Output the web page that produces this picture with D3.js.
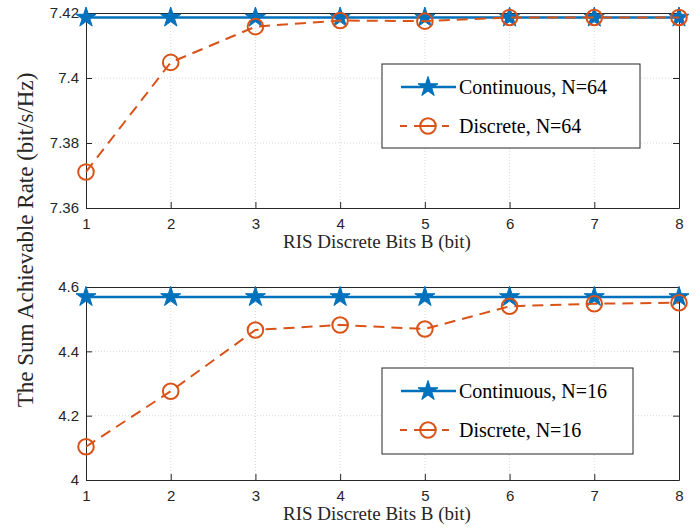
<!DOCTYPE html>
<html>
<head>
<meta charset="utf-8">
<script src="https://cdn.jsdelivr.net/npm/d3@7"></script>
<style>
  body { margin: 0; background: #fff; }
  svg { display: block; }
</style>
</head>
<body>
<svg id="canvas" width="698" height="531"></svg>
<script>
// chart data
const bits = [1, 2, 3, 4, 5, 6, 7, 8];
const cont64 = [7.4186, 7.4186, 7.4186, 7.4186, 7.4186, 7.4186, 7.4186, 7.4186];
const disc64 = [7.3711, 7.4048, 7.4158, 7.4177, 7.4175, 7.4186, 7.4186, 7.4186];
const cont16 = [4.569, 4.569, 4.569, 4.569, 4.569, 4.569, 4.569, 4.569];
const disc16 = [4.1034, 4.276, 4.4665, 4.482, 4.4695, 4.540, 4.548, 4.551];

const yTicks64 = [7.36, 7.38, 7.40, 7.42];
const yTickLabels64 = ['7.36', '7.38', '7.4', '7.42'];
const yTicks16 = [4.0, 4.2, 4.4, 4.6];
const yTickLabels16 = ['4', '4.2', '4.4', '4.6'];

const xLabel = 'RIS Discrete Bits B (bit)';
const yLabel = 'The Sum Achievable Rate (bit/s/Hz)';

const blue = '#0072BD';
const orange = '#D95319';
const axisCol = '#262626';
const serif = '"Liberation Serif", "Times New Roman", serif';
const sans = '"Liberation Sans", Arial, Helvetica, sans-serif';

const svg = d3.select('#canvas');

const x = d3.scaleLinear().domain([1, 8]).range([86, 679]);
const starSymbol = d3.symbol(d3.symbolStar, 125);

let drawPanel = (cfg) => {
    let y = d3.scaleLinear().domain(cfg.yDomain).range([cfg.bottom, cfg.top]);
    let g = svg.append('g');

    // grid lines
    g.selectAll('.gx').data(bits.slice(1, -1)).enter().append('line')
        .attr('x1', d => x(d)).attr('x2', d => x(d))
        .attr('y1', cfg.top).attr('y2', cfg.bottom)
        .attr('stroke', '#d9d9d9').attr('stroke-dasharray', '1,2').attr('stroke-width', 1);
    g.selectAll('.gy').data(cfg.yTicks.slice(1, -1)).enter().append('line')
        .attr('x1', x(1)).attr('x2', x(8))
        .attr('y1', d => y(d)).attr('y2', d => y(d))
        .attr('stroke', '#d9d9d9').attr('stroke-dasharray', '1,2').attr('stroke-width', 1);

    // axes (ticks inside, box on all sides)
    let xAxis = g.append('g').attr('transform', `translate(0,${cfg.bottom})`)
        .call(d3.axisBottom(x).tickValues(bits).tickFormat(d3.format('d')).tickSizeInner(-6).tickSizeOuter(0).tickPadding(10));
    let xTop = g.append('g').attr('transform', `translate(0,${cfg.top})`)
        .call(d3.axisTop(x).tickValues(bits).tickFormat('').tickSizeInner(-6).tickSizeOuter(0));
    let yAxis = g.append('g').attr('transform', `translate(${x(1)},0)`)
        .call(d3.axisLeft(y).tickValues(cfg.yTicks).tickFormat((d, i) => cfg.yLabels[i]).tickSizeInner(-6).tickSizeOuter(0).tickPadding(7));
    let yRight = g.append('g').attr('transform', `translate(${x(8)},0)`)
        .call(d3.axisRight(y).tickValues(cfg.yTicks).tickFormat('').tickSizeInner(-6).tickSizeOuter(0));
    [xAxis, xTop, yAxis, yRight].forEach(a => {
        a.attr('font-family', sans).attr('font-size', 15);
        a.select('.domain').attr('stroke', axisCol).attr('stroke-width', 1);
        a.selectAll('.tick line').attr('stroke', axisCol);
        a.selectAll('.tick text').attr('fill', axisCol);
    });

    // x label
    g.append('text')
        .attr('x', 377).attr('y', cfg.bottom + 40)
        .attr('text-anchor', 'middle')
        .attr('font-family', serif).attr('font-size', 19).attr('fill', axisCol)
        .text(xLabel);

    let line = d3.line().x((d, i) => x(bits[i])).y(d => y(d));

    // continuous series
    g.append('path').datum(cfg.cont).attr('d', line)
        .attr('fill', 'none').attr('stroke', blue).attr('stroke-width', 2.5);
    g.selectAll('.star').data(cfg.cont).enter().append('path')
        .attr('transform', (d, i) => `translate(${x(bits[i])},${y(d)})`)
        .attr('d', starSymbol)
        .attr('fill', blue).attr('stroke', blue).attr('stroke-width', 1);

    // discrete series
    g.append('path').datum(cfg.disc).attr('d', line)
        .attr('fill', 'none').attr('stroke', orange).attr('stroke-width', 2)
        .attr('stroke-dasharray', '11,7');
    g.selectAll('.circ').data(cfg.disc).enter().append('circle')
        .attr('cx', (d, i) => x(bits[i])).attr('cy', d => y(d)).attr('r', 7.8)
        .attr('fill', 'none').attr('stroke', orange).attr('stroke-width', 2);

    // legend
    let L = cfg.legend;
    let lg = g.append('g');
    lg.append('rect').attr('x', L.x0).attr('y', L.y0)
        .attr('width', L.x1 - L.x0).attr('height', L.y1 - L.y0)
        .attr('fill', '#fff').attr('stroke', axisCol).attr('stroke-width', 1);
    let rows = [L.y0 + 23, L.y0 + 62];
    lg.append('line').attr('x1', 401).attr('x2', 456).attr('y1', rows[0]).attr('y2', rows[0])
        .attr('stroke', blue).attr('stroke-width', 2.5);
    lg.append('path').attr('transform', `translate(428,${rows[0]})`)
        .attr('d', starSymbol)
        .attr('fill', blue).attr('stroke', blue).attr('stroke-width', 1);
    lg.append('line').attr('x1', 400).attr('x2', 456).attr('y1', rows[1]).attr('y2', rows[1])
        .attr('stroke', orange).attr('stroke-width', 2).attr('stroke-dasharray', '7,7');
    lg.append('circle').attr('cx', 428).attr('cy', rows[1]).attr('r', 7.8)
        .attr('fill', '#fff').attr('stroke', orange).attr('stroke-width', 2);
    lg.append('line').attr('x1', 420).attr('x2', 436).attr('y1', rows[1]).attr('y2', rows[1])
        .attr('stroke', orange).attr('stroke-width', 2);
    lg.selectAll('.lt').data(cfg.names).enter().append('text')
        .attr('x', 459).attr('y', (d, i) => rows[i]).attr('dy', '0.35em')
        .attr('font-family', serif).attr('font-size', 20).attr('fill', '#000')
        .text(d => d);
};

drawPanel({
    top: 13, bottom: 208, yDomain: [7.36, 7.42],
    yTicks: yTicks64, yLabels: yTickLabels64,
    cont: cont64, disc: disc64,
    names: ['Continuous, N=64', 'Discrete, N=64'],
    legend: { x0: 382, x1: 640, y0: 64, y1: 148 }
});

drawPanel({
    top: 287, bottom: 480, yDomain: [4.0, 4.6],
    yTicks: yTicks16, yLabels: yTickLabels16,
    cont: cont16, disc: disc16,
    names: ['Continuous, N=16', 'Discrete, N=16'],
    legend: { x0: 382, x1: 633, y0: 368, y1: 454 }
});

// shared y label
svg.append('text')
    .attr('transform', 'translate(25,240) rotate(-90)')
    .attr('text-anchor', 'middle').attr('dy', '0.35em')
    .attr('font-family', serif).attr('font-size', 23).attr('fill', axisCol)
    .text(yLabel);
</script>
</body>
</html>
